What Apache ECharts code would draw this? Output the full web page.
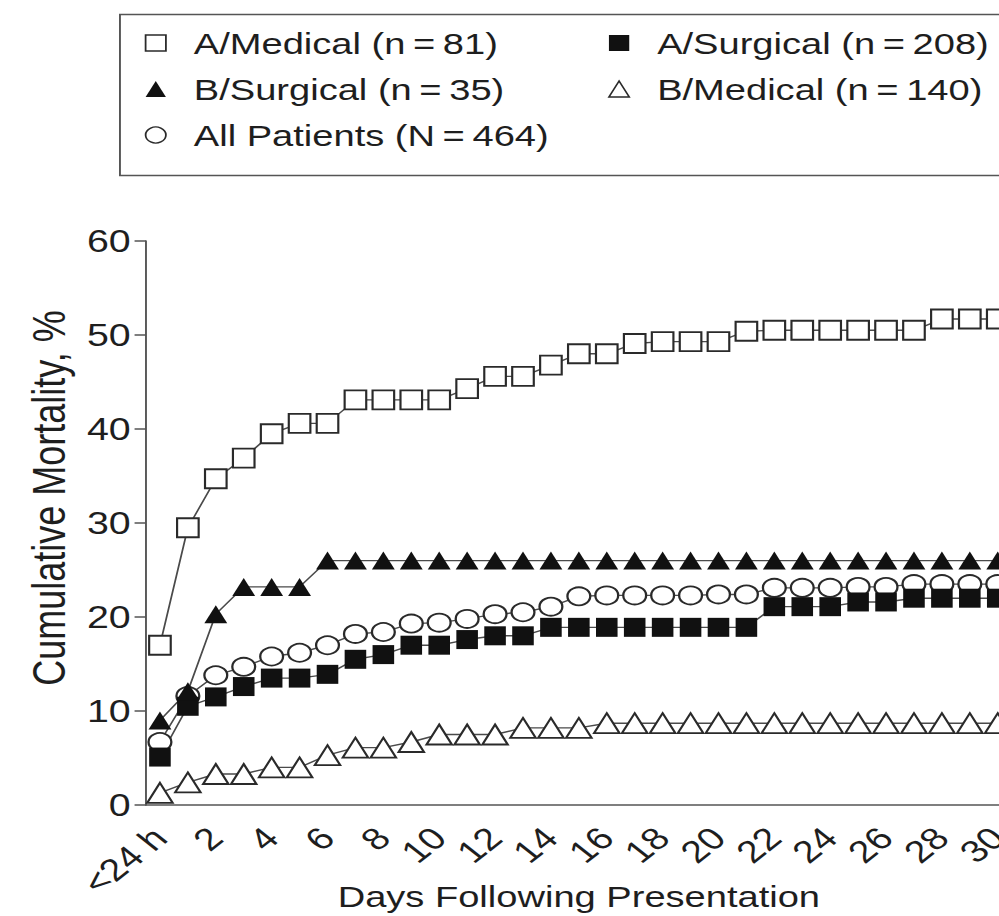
<!DOCTYPE html>
<html>
<head>
<meta charset="utf-8">
<title>Cumulative Mortality</title>
<script src="https://cdn.jsdelivr.net/npm/echarts@6/dist/echarts.min.js"></script>
<style>
    html, body { margin: 0; padding: 0; background: #fff; overflow: hidden; }
    /* the source figure is stretched sideways, so draw it narrower and scale x */
    #chart { width: 787px; height: 916px; transform: scaleX(1.2694); transform-origin: 0 0; }
</style>
</head>
<body>
<div id="chart"></div>
<script>
// x categories: first day is "<24 h", then day 1 .. 30
const days = ['<24 h', '1', '2', '3', '4', '5', '6', '7', '8', '9', '10',
    '11', '12', '13', '14', '15', '16', '17', '18', '19', '20',
    '21', '22', '23', '24', '25', '26', '27', '28', '29', '30']
const yTicks = [0, 10, 20, 30, 40, 50, 60]

// series names (thin spaces round the "=")
const nameAMed = 'A/Medical (n\u2009=\u200981)'
const nameASurg = 'A/Surgical (n\u2009=\u2009208)'
const nameBSurg = 'B/Surgical (n\u2009=\u200935)'
const nameBMed = 'B/Medical (n\u2009=\u2009140)'
const nameAll = 'All Patients (N\u2009=\u2009464)'

// cumulative mortality, %
const aMedical = [17.0, 29.5, 34.7, 36.9, 39.5, 40.6, 40.6, 43.1, 43.1, 43.1, 43.1,
    44.3, 45.6, 45.6, 46.8, 48.0, 48.0, 49.1, 49.3, 49.3, 49.3,
    50.4, 50.5, 50.5, 50.5, 50.5, 50.5, 50.5, 51.7, 51.7, 51.7]
const aSurgical = [5.1, 10.5, 11.5, 12.6, 13.5, 13.5, 13.9, 15.5, 16.0, 17.0, 17.0,
    17.6, 18.0, 18.0, 18.9, 18.9, 18.9, 18.9, 18.9, 18.9, 18.9,
    18.9, 21.1, 21.1, 21.1, 21.6, 21.6, 22.0, 22.0, 22.0, 22.0]
const bSurgical = [9.0, 12.1, 20.3, 23.2, 23.2, 23.2, 26.0, 26.0, 26.0, 26.0, 26.0,
    26.0, 26.0, 26.0, 26.0, 26.0, 26.0, 26.0, 26.0, 26.0, 26.0,
    26.0, 26.0, 26.0, 26.0, 26.0, 26.0, 26.0, 26.0, 26.0, 26.0]
const bMedical = [1.3, 2.4, 3.3, 3.3, 4.0, 4.0, 5.3, 6.1, 6.1, 6.7, 7.5,
    7.5, 7.5, 8.2, 8.2, 8.2, 8.7, 8.7, 8.7, 8.7, 8.7,
    8.7, 8.7, 8.7, 8.7, 8.7, 8.7, 8.7, 8.7, 8.7, 8.7]
const allPatients = [6.7, 11.6, 13.8, 14.7, 15.8, 16.2, 17.0, 18.2, 18.4, 19.3, 19.4,
    19.8, 20.3, 20.5, 21.1, 22.2, 22.3, 22.3, 22.3, 22.3, 22.4,
    22.4, 23.1, 23.1, 23.1, 23.2, 23.2, 23.5, 23.5, 23.5, 23.5]

const FONT = "'Liberation Sans', Arial, Helvetica, sans-serif"
const INK = '#1e1e1e'
const AXIS = '#555'
const LINE = '#4a4a4a'

// hollow or filled marker style
const markStyle = filled => filled
    ? { color: '#111', borderColor: '#111', borderWidth: 0 }
    : { color: '#fff', borderColor: '#2a2a2a', borderWidth: 1.8 }

const makeSeries = (name, values, symbol, size, filled) => ({
    name: name,
    type: 'line',
    data: values,
    symbol: symbol,
    symbolSize: size,
    showAllSymbol: true,
    lineStyle: { color: LINE, width: 1.4 },
    itemStyle: markStyle(filled),
    emphasis: { disabled: true },
})

const legendItem = (name, icon, filled) => ({
    name: name,
    icon: icon,
    itemStyle: filled ? markStyle(true) : { color: '#fff', borderColor: '#2a2a2a', borderWidth: 1.4 },
})

// two legend columns share one look
const legendColumn = (left, items) => ({
    left: left,
    top: 28,
    padding: 0,
    orient: 'vertical',
    itemWidth: 16,
    itemHeight: 16,
    itemGap: 16,
    selectedMode: false,
    textStyle: { fontSize: 30, color: INK, fontFamily: FONT, lineHeight: 30, padding: [0, 0, 0, 17] },
    data: items,
})

const chart = echarts.init(document.getElementById('chart'), null, { renderer: 'svg' })

const option = {
    animation: false,
    backgroundColor: '#fff',
    textStyle: { fontFamily: FONT },
    // frame round the legend
    graphic: [{
        type: 'rect',
        left: 92,
        top: 12,
        shape: { width: 720, height: 161 },
        style: { fill: 'none', stroke: '#555', lineWidth: 1.5 },
        silent: true,
    }],
    legend: [
        legendColumn(114, [
            legendItem(nameAMed, 'rect', false),
            legendItem(nameBSurg, 'triangle', true),
            legendItem(nameAll, 'circle', false),
        ]),
        legendColumn(479, [
            legendItem(nameASurg, 'rect', true),
            legendItem(nameBMed, 'triangle', false),
        ]),
    ],
    grid: {
        left: 115,
        right: -10,
        top: 241,
        bottom: 111,
        containLabel: false,
        outerBoundsMode: 'none',
    },
    xAxis: {
        type: 'category',
        data: days,
        boundaryGap: true,
        name: 'Days Following Presentation',
        nameLocation: 'middle',
        nameGap: 76,
        nameMoveOverlap: false,
        nameTextStyle: { fontSize: 30, color: INK, fontFamily: FONT },
        axisLine: { lineStyle: { color: AXIS, width: 1.5 } },
        axisTick: { interval: 0, length: 11, lineStyle: { color: AXIS, width: 1.5 } },
        axisLabel: {
            interval: 1,
            rotate: 45,
            margin: 28,
            fontSize: 31,
            color: INK,
            fontFamily: FONT,
        },
        splitLine: { show: false },
    },
    yAxis: {
        type: 'value',
        min: yTicks[0],
        max: yTicks[yTicks.length - 1],
        interval: 10,
        name: 'Cumulative Mortality, %',
        nameLocation: 'middle',
        nameGap: 58,
        nameMoveOverlap: false,
        nameTextStyle: { fontSize: 36, color: INK, fontFamily: FONT, padding: [0, 0, 0, 50] },
        axisLine: { show: true, lineStyle: { color: AXIS, width: 1.5 } },
        axisTick: { show: true, length: 9, lineStyle: { color: AXIS, width: 1.5 } },
        axisLabel: { fontSize: 31, color: INK, fontFamily: FONT, margin: 12 },
        splitLine: { show: false },
    },
    series: [
        makeSeries(nameAll, allPatients, 'circle', 18, false),
        makeSeries(nameBMed, bMedical, 'triangle', [20, 20], false),
        makeSeries(nameAMed, aMedical, 'rect', [17, 19], false),
        makeSeries(nameASurg, aSurgical, 'rect', [17, 19], true),
        makeSeries(nameBSurg, bSurgical, 'triangle', [18, 18], true),
    ],
}

chart.setOption(option)
</script>
</body>
</html>
